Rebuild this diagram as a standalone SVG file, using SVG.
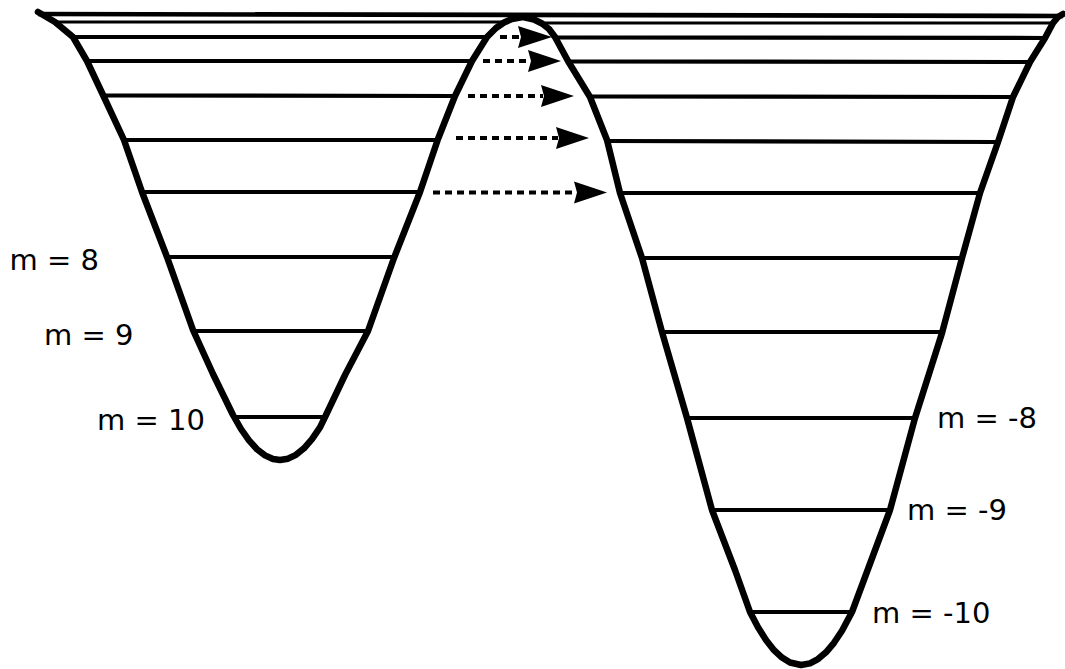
<svg xmlns="http://www.w3.org/2000/svg" width="1065" height="669" viewBox="0 0 1065 669">
<style>
.curve{fill:none;stroke:#000;stroke-width:6.5;stroke-linejoin:round;stroke-linecap:round}
.lvl{stroke:#000;stroke-width:4.2;fill:none}
.thin{stroke:#000;stroke-width:2.8;fill:none}
.dash{stroke:#000;stroke-width:4;stroke-dasharray:7 5;fill:none}
.head{fill:#000}
.lab{font-family:"DejaVu Sans",sans-serif;font-size:29px;fill:#000}
</style>
<rect width="1065" height="669" fill="#fff"/>
<g id="levels">
<line class="lvl" x1="38" y1="14" x2="1063" y2="16" style="stroke-width:4.6"/>
<line class="thin" x1="55" y1="22" x2="507" y2="22"/>
<line class="thin" x1="543" y1="23" x2="1053" y2="23"/>
<line class="lvl" x1="73" y1="37" x2="487" y2="37"/>
<line class="lvl" x1="555" y1="37.5" x2="1045" y2="38"/>
<line class="lvl" x1="87" y1="61" x2="472" y2="61"/>
<line class="lvl" x1="568" y1="61.5" x2="1030" y2="62"/>
<line class="lvl" x1="103" y1="95.5" x2="455" y2="96"/>
<line class="lvl" x1="590" y1="96.5" x2="1013" y2="97"/>
<line class="lvl" x1="124" y1="140" x2="438" y2="140"/>
<line class="lvl" x1="607" y1="141" x2="998" y2="142"/>
<line class="lvl" x1="142" y1="192" x2="420" y2="192"/>
<line class="lvl" x1="620" y1="193" x2="980" y2="193"/>
<line class="lvl" x1="167" y1="257" x2="394" y2="257"/>
<line class="lvl" x1="642" y1="258" x2="962" y2="258"/>
<line class="lvl" x1="193" y1="331" x2="368" y2="331"/>
<line class="lvl" x1="662" y1="332" x2="942" y2="332"/>
<line class="lvl" x1="233" y1="417" x2="326" y2="417"/>
<line class="lvl" x1="687" y1="418" x2="915" y2="418"/>
<line class="lvl" x1="712" y1="510" x2="890" y2="510"/>
<line class="lvl" x1="750" y1="612" x2="852" y2="612"/>
</g>
<g id="potential">
<polyline class="curve" points="38,12 55,22 73,37 87,61 103,95 124,140 142,192 167,257 193,330 213,374 233,415 241,429 249,440.4 257,449.2 265,455.4 273,459 280,460 288,458.7 296,454.8 304,448.3 312,439.1 320,427.4 326,415 345,375 368,331 394,258 420,192 438,139 455,96 472,61 487,37 496,28 504,22.5 512,19 523,17 534,19.5 542,23.5 549,29 555,37 568,61 590,97 607,140 620,193 642,258 662,332 687,418 712,510 735,570 750,612 758,627.3 766,640 774,650.2 782,657.6 790,662.5 801,665 810,663.4 818,659.1 826,652.3 834,642.8 842,630.8 852,612 890,510 915,418 942,333 962,258 980,193 998,142 1013,97 1030,62 1045,38 1053,23 1058,17 1063,14"/>
</g>
<g id="connectors">
<line class="dash" x1="500" y1="37" x2="520" y2="37"/>
<polygon class="head" points="518,26 552,37 518,48 521,37"/>
<line class="dash" x1="483" y1="61" x2="530" y2="61"/>
<polygon class="head" points="528,50 561,61 528,72 531,61"/>
<line class="dash" x1="468" y1="96" x2="543" y2="96"/>
<polygon class="head" points="541,85 574,96 541,107 544,96"/>
<line class="dash" x1="456" y1="138" x2="558" y2="138"/>
<polygon class="head" points="556,127 589,138 556,149 559,138"/>
<line class="dash" x1="433" y1="192.5" x2="576" y2="192.5"/>
<polygon class="head" points="574,181.5 607,192.5 574,203.5 577,192.5"/>
</g>
<g id="labels">
<text class="lab" x="9.5" y="270">m = 8</text>
<text class="lab" x="44" y="345">m = 9</text>
<text class="lab" x="97" y="430">m = 10</text>
<text class="lab" x="937" y="428">m = -8</text>
<text class="lab" x="907" y="520">m = -9</text>
<text class="lab" x="872" y="623">m = -10</text>
</g>
</svg>
